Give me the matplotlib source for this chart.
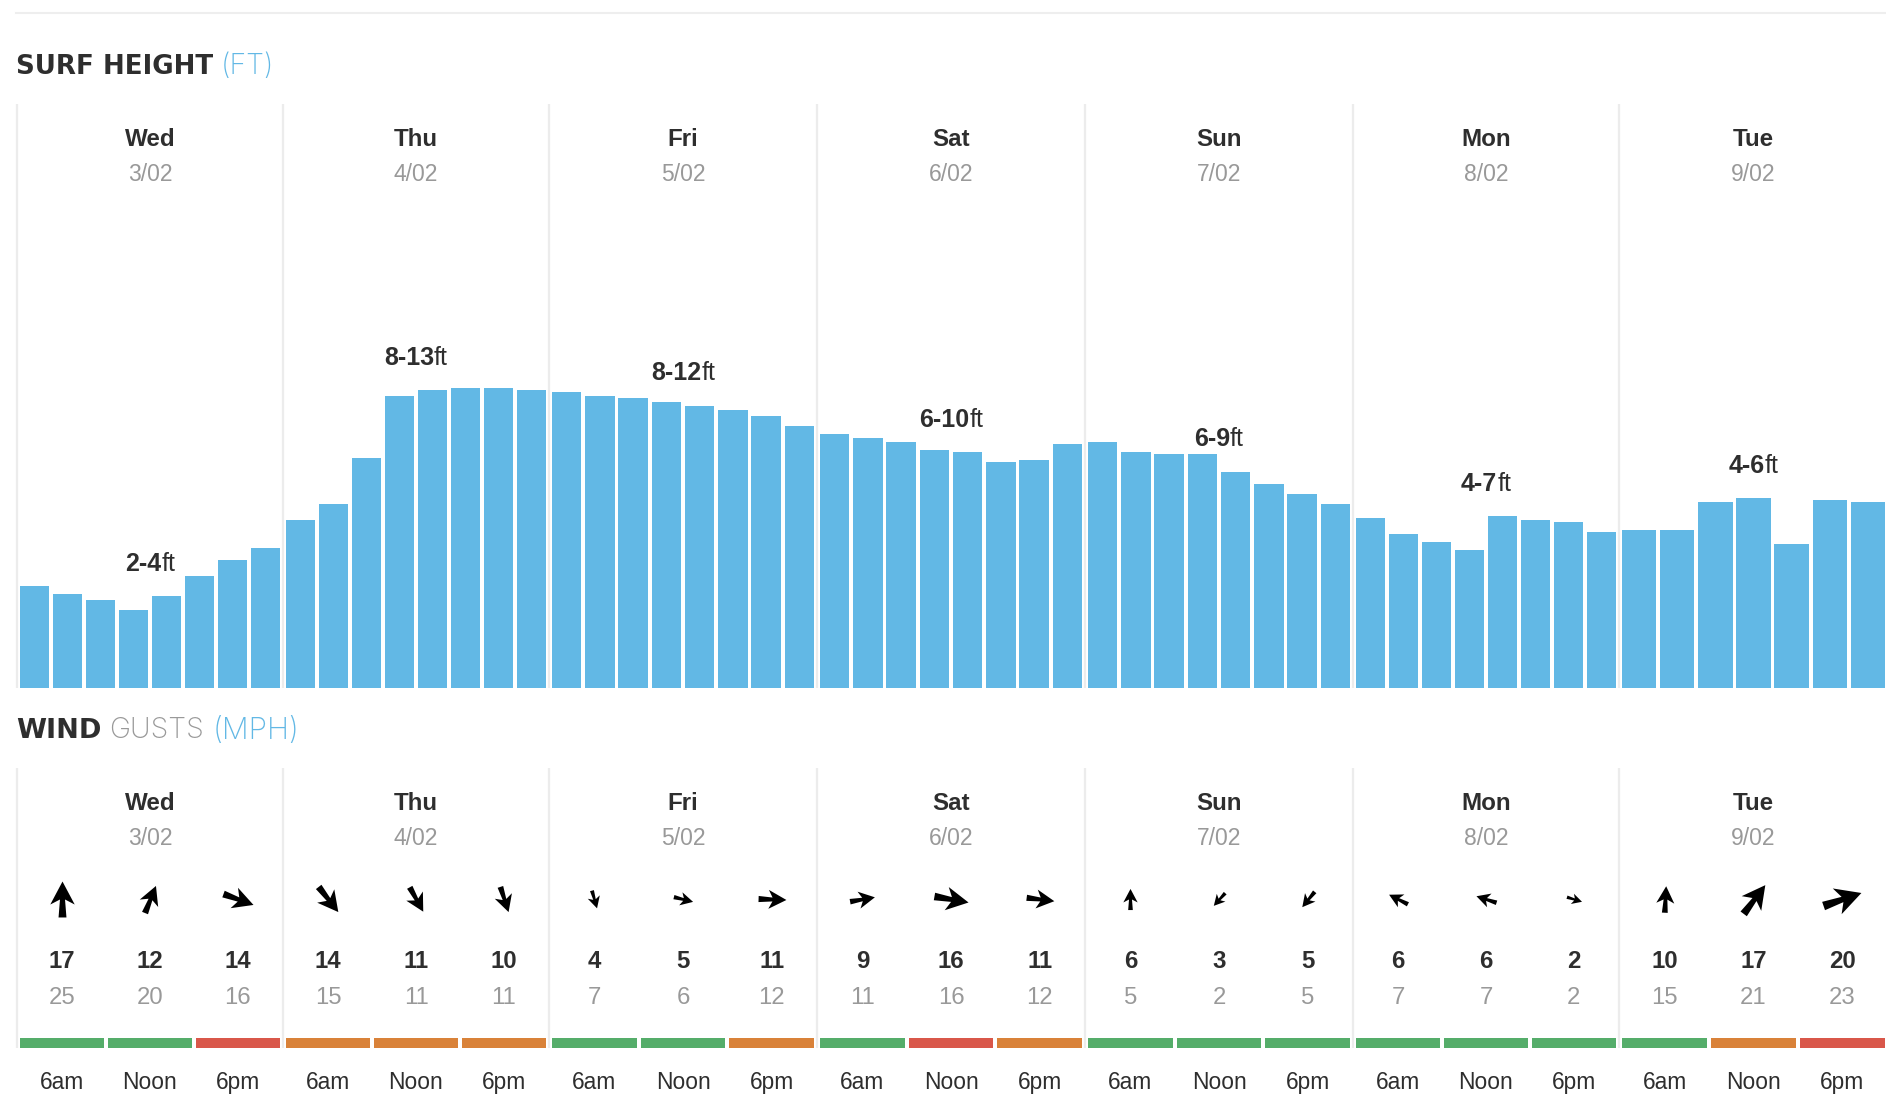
import matplotlib
matplotlib.use("Agg")
import matplotlib.pyplot as plt
from matplotlib.markers import MarkerStyle
from matplotlib.path import Path
from matplotlib.transforms import Affine2D

days = ["Wed", "Thu", "Fri", "Sat", "Sun", "Mon", "Tue"]
dates = ["3/02", "4/02", "5/02", "6/02", "7/02", "8/02", "9/02"]
surf_ranges = [("2-4", "ft"), ("8-13", "ft"), ("8-12", "ft"), ("6-10", "ft"),
               ("6-9", "ft"), ("4-7", "ft"), ("4-6", "ft")]
surf_wed = [4.37, 4.03, 3.77, 3.34, 3.94, 4.80, 5.49, 6.00]
surf_thu = [7.20, 7.89, 9.86, 12.51, 12.77, 12.86, 12.86, 12.77]
surf_fri = [12.69, 12.51, 12.43, 12.26, 12.09, 11.91, 11.66, 11.23]
surf_sat = [10.89, 10.71, 10.54, 10.20, 10.11, 9.69, 9.77, 10.46]
surf_sun = [10.54, 10.11, 10.03, 10.03, 9.26, 8.74, 8.31, 7.89]
surf_mon = [7.29, 6.60, 6.26, 5.91, 7.37, 7.20, 7.11, 6.69]
surf_tue = [6.77, 6.77, 7.97, 8.14, 6.17, 8.06, 7.97]
surf_by_day = [surf_wed, surf_thu, surf_fri, surf_sat, surf_sun, surf_mon, surf_tue]

wind_speed = [17, 12, 14, 14, 11, 10, 4, 5, 11, 9, 16, 11, 6, 3, 5, 6, 6, 2, 10, 17, 20]
wind_gust = [25, 20, 16, 15, 11, 11, 7, 6, 12, 11, 16, 12, 5, 2, 5, 7, 7, 2, 15, 21, 23]
wind_heading = [0, 22, 110, 142, 151, 162, 164, 104, 92, 80, 100, 97, 0, 222, 219, 297, 288, 107, 3, 37, 71]
wind_rating = ["good", "good", "poor", "fair", "fair", "fair", "good", "good", "fair",
               "good", "poor", "fair", "good", "good", "good", "good", "good", "good",
               "good", "fair", "poor"]
time_labels = ["6am", "Noon", "6pm"]

W, H = 1886, 1114
DARK, GREY, BLUE, SEP = "#2e2e2e", "#999999", "#62b8e5", "#ececec"
RATING_COLORS = {"good": "#55ad6a", "fair": "#d98239", "poor": "#d9574a"}
BODY = "Liberation Sans"
DAY_EDGES = [17, 283, 549, 817, 1085, 1353, 1619, 1888]

fig = plt.figure(figsize=(W / 100, H / 100), dpi=100, facecolor="white")
renderer = fig.canvas.get_renderer()


def axes_px(top, bottom):
    ax = fig.add_axes([0, 1 - bottom / H, 1, (bottom - top) / H])
    ax.set_axis_off()
    ax.set_xlim(0, W)
    return ax


def header(x, y, parts):
    for text, color, family, weight, size in parts:
        t = fig.text(x / W, 1 - y / H, text, color=color, fontweight=weight, family=family,
                     fontsize=size, va="center_baseline", ha="left")
        x += t.get_window_extent(renderer).width + 8


fig.add_artist(plt.Line2D([16 / W, 1], [1 - 13 / H] * 2, color="#eeeeee", lw=1.5))
header(16, 64, [("SURF HEIGHT", DARK, "DejaVu Sans", "bold", 18.8), ("(FT)", BLUE, "Inter", "light", 20.5)])
header(16, 728, [("WIND", DARK, "DejaVu Sans", "bold", 19.6), ("GUSTS", GREY, "Inter", "light", 20.5),
                 ("(MPH)", BLUE, "Inter", "light", 21.5)])

EDGE = 3
GAP = 3.8


def slots(d, n):
    left, right = DAY_EDGES[d] + EDGE, DAY_EDGES[d + 1] - EDGE
    pitch = (right - left + GAP) / n
    return [left + pitch * (j + 0.5) - GAP / 2 for j in range(n)], pitch - GAP


def day_head(ax, d, y_day, y_date):
    cx = (DAY_EDGES[d] + DAY_EDGES[d + 1]) / 2
    ax.text(cx, y_day, days[d], ha="center", va="center_baseline", family=BODY,
            fontweight="bold", fontsize=17.4, color=DARK)
    ax.text(cx, y_date, dates[d], ha="center", va="center_baseline", family=BODY,
            fontsize=16.5, color=GREY)
    return cx


# surf panel
FT_PX = 70 / 3
TOP = 584
surf_ax = axes_px(104, 688)
surf_ax.set_ylim(0, TOP / FT_PX)
surf_ax.vlines(DAY_EDGES[:-1], 0, TOP / FT_PX, color=SEP, lw=1.6, clip_on=False, zorder=1)
for d, vals in enumerate(surf_by_day):
    n = len(vals)
    xs, width = slots(d, n)
    surf_ax.bar(xs, vals, width=width, color=BLUE, zorder=2)
    cx = day_head(surf_ax, d, (TOP - 33) / FT_PX, (TOP - 68) / FT_PX)
    bold, unit = surf_ranges[d]
    anchor = (cx, vals[n // 2])
    a = surf_ax.annotate(bold, anchor, xytext=(0, 35), textcoords="offset pixels", family=BODY,
                         fontweight="bold", fontsize=18, color=DARK, ha="left", va="center_baseline")
    b = surf_ax.annotate(unit, anchor, xytext=(0, 35), textcoords="offset pixels", family=BODY,
                         fontsize=18, color=DARK, ha="left", va="center_baseline")
    wa = a.get_window_extent(renderer).width
    wb = b.get_window_extent(renderer).width
    a.set_position((-(wa + wb) / 2, 35))
    b.set_position((-(wa + wb) / 2 + wa, 35))

# wind panel (vertical scale: pixels below the panel top)
wind_ax = axes_px(768, 1048)
wind_ax.set_ylim(280, 0)
wind_ax.vlines(DAY_EDGES[:-1], 0, 280, color=SEP, lw=1.6, clip_on=False, zorder=1)

ARROW = Path([(0, 0.5), (0.34, -0.14), (0.07, 0.0), (0.11, -0.5), (-0.11, -0.5), (-0.07, 0.0),
              (-0.34, -0.14), (0, 0.5)], closed=True)

for d in range(7):
    day_head(wind_ax, d, 33, 68)
    xs, width = slots(d, 3)
    for j, x in enumerate(xs):
        i = d * 3 + j
        wind_ax.bar(x, 10, bottom=270, width=width, color=RATING_COLORS[wind_rating[i]], zorder=2)
        marker = MarkerStyle(ARROW, transform=Affine2D().rotate_deg(-wind_heading[i]))
        length = (13 + 1.35 * wind_speed[i]) * 0.72
        wind_ax.plot([x], [131], marker=marker, markersize=length, color="black", mew=0, ls="none")
        wind_ax.text(x, 191, str(wind_speed[i]), ha="center", va="center_baseline", family=BODY,
                     fontweight="bold", fontsize=17.3, color=DARK)
        wind_ax.text(x, 227, str(wind_gust[i]), ha="center", va="center_baseline", family=BODY,
                     fontsize=17.2, color=GREY)
        wind_ax.text(x, 312, time_labels[j], ha="center", va="center_baseline", family=BODY,
                     fontsize=16.4, color=DARK)

fig.savefig("out.png", dpi=100)
